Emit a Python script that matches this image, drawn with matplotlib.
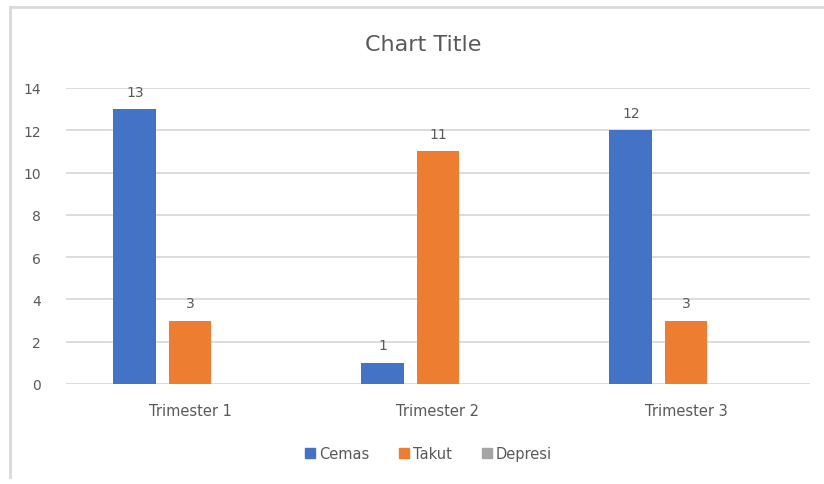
import matplotlib
matplotlib.use("Agg")
import matplotlib.pyplot as plt
from matplotlib.lines import Line2D
import numpy as np

categories = ["Trimester 1", "Trimester 2", "Trimester 3"]
series_names = ["Cemas", "Takut", "Depresi"]
cemas = [13, 1, 12]
takut = [3, 11, 3]
depresi = [None, None, None]
yticks = [0, 2, 4, 6, 8, 10, 12, 14]

colors = ["#4472C4", "#ED7D31", "#A5A5A5"]
txt = "#595959"

plt.rcParams['font.family'] = ['DejaVu Sans']

fig = plt.figure(figsize=(8.24, 4.85), dpi=100)
ax = fig.add_axes([66/824, 1-385/485, (810-66)/824, (385-89)/485])

x = np.arange(len(categories))
width = 0.173
offset = 0.222
all_series = [cemas, takut, depresi]
for i, (name, vals) in enumerate(zip(series_names, all_series)):
    h = [v if v is not None else 0 for v in vals]
    bars = ax.bar(x + (i - 1) * offset, h, width, color=colors[i], label=name, zorder=3)
    for b, v in zip(bars, vals):
        if v is not None:
            ax.text(b.get_x() + b.get_width()/2, v + 0.5, str(v), ha="center", va="bottom",
                    fontsize=10, color=txt, zorder=4)

ax.set_xlim(-0.5, 2.5)
ax.set_ylim(0, 14)
ax.set_yticks(yticks)
ax.set_xticks(x)
ax.set_xticklabels(categories, fontsize=10.5)
ax.yaxis.grid(True, color="#D9D9D9", linewidth=1.3, zorder=0)
for s in ax.spines.values():
    s.set_visible(False)
ax.tick_params(axis="both", length=0, colors=txt)
ax.tick_params(axis="y", labelsize=10, pad=18)
ax.tick_params(axis="x", pad=14)

fig.text(423/824, 1-45/485, "Chart Title", ha="center", va="center", fontsize=16, color=txt)

handles = [Line2D([0], [0], marker="s", linestyle="none", markersize=7,
                  markerfacecolor=c, markeredgecolor=c) for c in colors]
fig.legend(handles, series_names, loc="center", bbox_to_anchor=(428/824, 1-455/485),
           ncol=3, frameon=False, fontsize=10.5, labelcolor=txt, handletextpad=0.2,
           columnspacing=2.0, handlelength=0.8)

# chart border
fig.add_artist(Line2D([10/824, 10/824], [1-478/485, 1-8/485], transform=fig.transFigure,
                      color="#D9D9D9", linewidth=2))
fig.add_artist(Line2D([10/824, 1.0], [1-8/485, 1-8/485], transform=fig.transFigure,
                      color="#D9D9D9", linewidth=2))

fig.savefig("out.png", dpi=100, facecolor="white")
